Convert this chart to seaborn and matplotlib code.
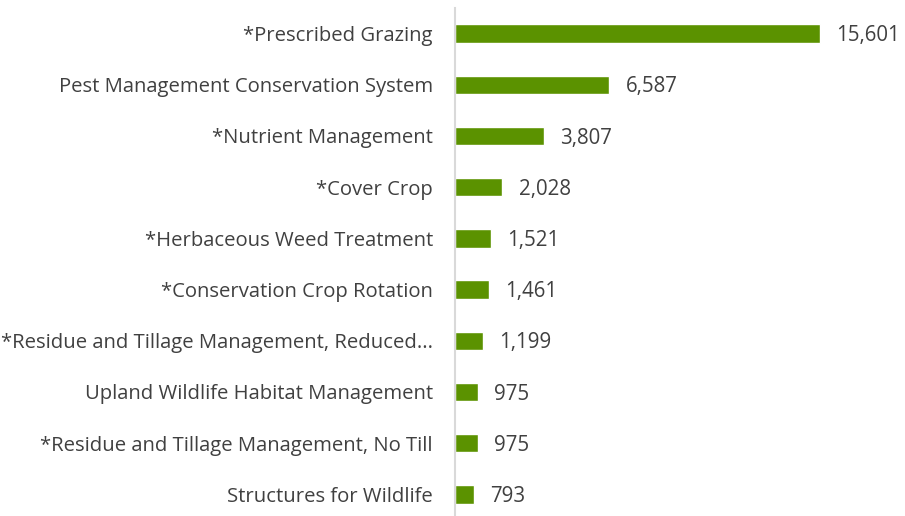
import matplotlib
matplotlib.use("Agg")
import matplotlib.pyplot as plt
import seaborn as sns
import pandas as pd

practices = [
    "*Prescribed Grazing",
    "Pest Management Conservation System",
    "*Nutrient Management",
    "*Cover Crop",
    "*Herbaceous Weed Treatment",
    "*Conservation Crop Rotation",
    "*Residue and Tillage Management, Reduced...",
    "Upland Wildlife Habitat Management",
    "*Residue and Tillage Management, No Till",
    "Structures for Wildlife",
]
counts = [15601, 6587, 3807, 2028, 1521, 1461, 1199, 975, 975, 793]

df = pd.DataFrame({"practice": practices, "count": counts})

sns.set_theme(style="white")
plt.rcParams["font.family"] = ["Open Sans", "DejaVu Sans"]

fig = plt.figure(figsize=(9.05, 5.16), dpi=100)
ax = fig.add_axes([455 / 905, -4 / 516, 445 / 905, 512 / 516])

bar_color = "#5B9200"
text_color = "#404040"

sns.barplot(data=df, x="count", y="practice", orient="h", color=bar_color,
            width=0.36, saturation=1, ax=ax)

ax.set_xlim(0, 445 / (365 / 15601))
ax.set_ylim(len(practices) - 0.5, -0.5)

# value labels just past the end of each bar
for i, v in enumerate(counts):
    ax.text(v + 700, i + 0.04, f"{v:,}", va="center", ha="left",
            fontsize=14.8, color=text_color)

ax.set_xlabel("")
ax.set_ylabel("")
ax.set_xticks([])
for side in ["top", "right", "bottom"]:
    ax.spines[side].set_visible(False)
ax.spines["left"].set_color("#D9D9D9")
ax.spines["left"].set_linewidth(1.5)
ax.tick_params(axis="y", length=0, pad=16, labelsize=14.6, labelcolor=text_color)

fig.savefig("out.png", dpi=100)
